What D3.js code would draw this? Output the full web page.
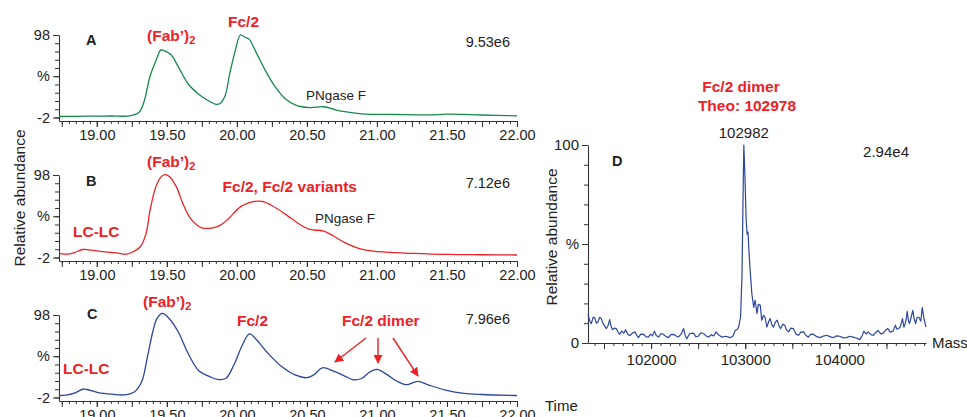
<!DOCTYPE html>
<html>
<head>
<meta charset="utf-8">
<script src="https://cdn.jsdelivr.net/npm/d3@7"></script>
<style>
  body { margin: 0; background: #fff; overflow: hidden; }
  svg text { font-family: "Liberation Sans", Arial, sans-serif; }
</style>
</head>
<body>
<svg id="chart" width="967" height="417"></svg>
<script>
const width = 967
const height = 417

// chromatogram A (green): retention time (min) / relative abundance (%)
const timeA = [18.73, 18.85, 19.0, 19.1, 19.236, 19.30, 19.335, 19.38, 19.42, 19.458, 19.48, 19.53, 19.58,
  19.655, 19.73, 19.80, 19.85, 19.88, 19.915, 19.95, 19.99, 20.025, 20.06, 20.087, 20.14, 20.20, 20.27,
  20.35, 20.42, 20.52, 20.62, 20.69, 20.77, 20.89, 21.14, 21.38, 21.5, 21.75, 22.0]
const valA = [-0.8, -0.6, -0.3, -0.2, 0, 4, 16, 48, 66, 80, 79, 74, 60,
  38, 26, 18, 14, 15, 24, 52, 80, 98, 95, 93, 76, 56, 36,
  20, 13, 10, 11, 8, 5, 2.5, 1.6, 1.2, 2, 1, 0]

// chromatogram B (red)
const timeB = [18.73, 18.79, 18.84, 18.90, 18.96, 19.04, 19.14, 19.21, 19.26, 19.31, 19.35, 19.38, 19.42,
  19.46, 19.485, 19.52, 19.57, 19.62, 19.68, 19.75, 19.83, 19.88, 19.94, 20.03, 20.13, 20.18, 20.25,
  20.35, 20.45, 20.52, 20.62, 20.69, 20.77, 20.89, 21.01, 21.26, 21.51, 21.75, 22.0]
const valB = [3, 2, 4, 7.7, 7, 5, 3.7, 2, 5, 11, 26, 55, 83,
  96, 98.5, 96, 83, 61, 43, 34, 34, 37, 45, 60, 66, 66, 61,
  50, 38, 32, 30, 24, 16, 8, 5, 3, 1.7, 1.3, 1]

// chromatogram C (blue)
const timeC = [18.73, 18.79, 18.85, 18.90, 18.93, 19.01, 19.11, 19.20, 19.27, 19.32, 19.36, 19.40, 19.43,
  19.47, 19.51, 19.58, 19.65, 19.73, 19.81, 19.86, 19.92, 19.98, 20.04, 20.09, 20.14, 20.22, 20.32,
  20.42, 20.50, 20.55, 20.61, 20.69, 20.77, 20.83, 20.89, 20.95, 21.0, 21.07, 21.14, 21.21, 21.29,
  21.37, 21.49, 21.62, 21.75, 22.0]
const valC = [0.4, 1.2, 4, 8, 7.7, 4, 2, 1.2, 5, 17, 46, 78, 94,
  100, 95, 78, 52, 30, 23, 20, 21, 38, 62, 75, 68, 52, 35.5,
  25, 22, 25.5, 34, 30, 24, 19.5, 21, 29, 32, 26, 18, 13.5, 17.5,
  13, 7, 3, 1.6, 0.4]

// deconvoluted spectrum D (blue): mass (Da) / relative abundance (%)
const massD = [101330, 101350, 101365, 101385, 101400, 101420, 101435, 101455, 101470, 101485, 101500, 101525,
  101545, 101560, 101575, 101590, 101610, 101630, 101650, 101665, 101690, 101710, 101730, 101750, 101775,
  101800, 101830, 101850, 101865, 101890, 101920, 101945, 101970, 101995, 102015, 102035, 102055, 102080,
  102105, 102130, 102160, 102185, 102210, 102240, 102265, 102290, 102320, 102345, 102365, 102380, 102410,
  102450, 102475, 102500, 102530, 102560, 102585, 102610, 102640, 102665, 102690, 102720, 102750, 102790,
  102840, 102870, 102895, 102915, 102930, 102950, 102965, 102975, 102985, 102995, 103010, 103020, 103030,
  103040, 103050, 103070, 103090, 103105, 103125, 103140, 103160, 103175, 103195, 103210, 103230, 103250,
  103265, 103285, 103300, 103320, 103340, 103360, 103375, 103400, 103420, 103440, 103460, 103485, 103510,
  103540, 103565, 103590, 103620, 103645, 103670, 103700, 103725, 103760, 103795, 103830, 103865, 103900,
  103935, 103970, 104005, 104040, 104075, 104110, 104145, 104180, 104215, 104240, 104260, 104285, 104305,
  104335, 104360, 104385, 104410, 104440, 104465, 104490, 104515, 104540, 104570, 104595, 104610, 104630,
  104650, 104670, 104685, 104695, 104710, 104720, 104735, 104745, 104765, 104780, 104795, 104810, 104825,
  104845, 104865, 104880, 104900, 104920]
const valD = [14.5, 11, 9.8, 13, 12.8, 10, 10.6, 13, 12.3, 10.5, 9, 7.3,
  9, 11.8, 8.5, 6.7, 7.5, 7.3, 5.5, 4.4, 6, 5, 6.7, 4.5, 3.7,
  5, 5.6, 3.8, 2.7, 4.5, 4.4, 3.2, 3, 4.5, 3.6, 6, 3.8, 3,
  4.8, 4.4, 3.2, 2.7, 4.2, 4.4, 3.5, 3, 4.6, 7.3, 3.4, 2.2, 4.8,
  5, 3.2, 3.4, 5.2, 4.7, 3.5, 3, 4.2, 3.5, 5.6, 4, 3, 3.4,
  2.7, 3.5, 6.4, 6.8, 8, 13, 33, 67, 100, 87, 62, 55, 56,
  46, 38, 25, 18, 21.6, 15, 19.5, 19, 11.5, 14, 13, 8, 11,
  12.3, 9, 8, 10.5, 11.5, 8.5, 7.3, 9.5, 9, 6.5, 5.6, 7.5, 7.3,
  4.5, 3.9, 5.5, 5.6, 3.8, 3, 4.6, 4.4, 3.2, 2.7, 3.5, 3.9, 3.2,
  2.7, 3.6, 3.4, 2.6, 2.7, 3.4, 3, 2.5, 1.7, 3.5, 6, 4.5, 5.6,
  4.2, 3.9, 5.2, 6.4, 4.6, 5, 6.5, 7.3, 5.5, 6, 9, 7, 7.3,
  8.5, 12.3, 8, 9, 12, 16, 11, 9.8, 13.5, 16.5, 12, 9.8, 13,
  13, 11, 17.9, 12, 8]

const timeLabels = [19, 19.5, 20, 20.5, 21, 21.5, 22]
const massLabels = [102000, 103000, 104000]
const scaleFactors = ['9.53e6', '7.12e6', '7.96e6']

const colorA = '#17884a'
const colorB = '#ec2227'
const colorC = '#2c479c'
const labelRed = '#ec2227'
const axisColor = '#333'

const svg = d3.select('#chart')

const defs = svg.append('defs')
defs.append('marker')
  .attr('id', 'arrow')
  .attr('viewBox', '0 0 10 10')
  .attr('refX', 9).attr('refY', 5)
  .attr('markerWidth', 9).attr('markerHeight', 9)
  .attr('markerUnits', 'userSpaceOnUse')
  .attr('orient', 'auto')
  .append('path')
  .attr('d', 'M0,0L10,5L0,10z')
  .attr('fill', labelRed)

// shared x scale for the three chromatograms
const x = d3.scaleLinear().domain([18.73, 22.0]).range([59, 517])

function styleAxis(g, fontSize) {
  g.selectAll('path, line').attr('stroke', axisColor).attr('stroke-width', 1)
  g.selectAll('text').attr('fill', '#222').style('font-size', fontSize + 'px')
  g.select('.domain').attr('stroke-width', 1.1)
}

function drawChrom(top, times, vals, color) {
  const g = svg.append('g').attr('transform', `translate(0,${top})`)
  const y = d3.scaleLinear().domain([-6.25, 98]).range([121, 35])

  // minor ticks
  g.append('g')
    .attr('transform', 'translate(0,121)')
    .call(d3.axisBottom(x).tickValues(d3.range(375, 441).map(i => i / 20)).tickSize(3).tickFormat('').tickSizeOuter(0))
    .call(g => styleAxis(g, 14.5))
  g.append('g')
    .attr('transform', 'translate(0,121)')
    .call(d3.axisBottom(x).tickValues(d3.range(75, 89).map(i => i / 4)).tickSize(6).tickFormat('').tickSizeOuter(0))
    .call(g => styleAxis(g, 14.5))
    .select('.domain').remove()
  g.append('g')
    .attr('transform', 'translate(0,121)')
    .call(d3.axisBottom(x).tickValues(timeLabels).tickSize(6).tickPadding(3).tickFormat(d3.format('.2f')))
    .call(g => styleAxis(g, 14.5))
    .select('.domain').remove()

  g.append('g')
    .attr('transform', 'translate(59,0)')
    .call(d3.axisLeft(y).tickValues(d3.range(-2, 99, 10)).tickSize(4).tickFormat('').tickSizeOuter(0))
    .call(g => styleAxis(g, 14.5))
  g.append('g')
    .attr('transform', 'translate(59,0)')
    .call(d3.axisLeft(y).tickValues([-2, 48, 98]).tickSize(6).tickPadding(3)
      .tickFormat(d => d === 48 ? '%' : d))
    .call(g => styleAxis(g, 14.5))
    .select('.domain').remove()

  const line = d3.line()
    .x((d, i) => x(times[i]))
    .y(d => y(d))
    .curve(d3.curveCatmullRom.alpha(0.5))

  g.append('path')
    .datum(vals)
    .attr('d', line)
    .attr('fill', 'none')
    .attr('stroke', color)
    .attr('stroke-width', 1.3)
  return g
}

drawChrom(0, timeA, valA, colorA)
drawChrom(140, timeB, valB, colorB)
drawChrom(280, timeC, valC, colorC)

function addText(txt, px, py, opts = {}) {
  const t = svg.append('text')
    .attr('x', px).attr('y', py)
    .attr('text-anchor', opts.anchor || 'start')
    .attr('fill', opts.color || '#222')
    .style('font-size', (opts.size || 14) + 'px')
    .style('font-weight', opts.bold ? 'bold' : 'normal')
    .text(txt)
  return t
}

function fabLabel(px, py) {
  const t = svg.append('text')
    .attr('x', px).attr('y', py)
    .attr('fill', labelRed)
    .style('font-size', '15.5px')
    .style('font-weight', 'bold')
  t.append('tspan').text('(Fab\u2019)')
  t.append('tspan').attr('dy', 3).style('font-size', '11px').text('2')
}

// panel labels and scale factors
addText('A', 86, 45, { bold: true, size: 14.5 })
addText('B', 86, 186, { bold: true, size: 14.5 })
addText('C', 87, 319, { bold: true, size: 14.5 })
addText(scaleFactors[0], 510, 47, { anchor: 'end', size: 14.5 })
addText(scaleFactors[1], 510, 188, { anchor: 'end', size: 14.5 })
addText(scaleFactors[2], 510, 324, { anchor: 'end', size: 14.5 })

// peak annotations
fabLabel(147, 41)
addText('Fc/2', 228, 27, { bold: true, size: 15.5, color: labelRed })
addText('PNgase F', 306, 100, { size: 13.5 })

fabLabel(147, 167)
addText('LC-LC', 73, 237, { bold: true, size: 15.5, color: labelRed })
addText('Fc/2, Fc/2 variants', 357, 192, { anchor: 'end', bold: true, size: 15.5, color: labelRed })
addText('PNgase F', 315, 223, { size: 13.5 })

fabLabel(143, 307)
addText('LC-LC', 63, 374, { bold: true, size: 15.5, color: labelRed })
addText('Fc/2', 237, 326, { bold: true, size: 15.5, color: labelRed })
addText('Fc/2 dimer', 342, 326, { bold: true, size: 15.5, color: labelRed })

const arrows = [[366, 338, 335, 362], [378, 338, 378, 363], [393, 338, 418, 376]]
svg.append('g').selectAll('line')
  .data(arrows)
  .join('line')
  .attr('x1', d => d[0]).attr('y1', d => d[1])
  .attr('x2', d => d[2]).attr('y2', d => d[3])
  .attr('stroke', labelRed)
  .attr('stroke-width', 1.4)
  .attr('marker-end', 'url(#arrow)')

svg.append('text')
  .attr('transform', 'translate(25,198) rotate(-90)')
  .attr('text-anchor', 'middle')
  .attr('fill', '#222')
  .style('font-size', '15.5px')
  .text('Relative abundance')
addText('Time', 545, 411, { size: 15 })

// panel D: deconvoluted mass spectrum
const xD = d3.scaleLinear().domain([101330, 104920]).range([588, 926])
const yD = d3.scaleLinear().domain([0, 100]).range([343, 145])
const gD = svg.append('g')

gD.append('g')
  .attr('transform', 'translate(0,343)')
  .call(d3.axisBottom(xD).tickValues(d3.range(101400, 104901, 100)).tickSize(3).tickFormat('').tickSizeOuter(0))
  .call(g => styleAxis(g, 15))
gD.append('g')
  .attr('transform', 'translate(0,343)')
  .call(d3.axisBottom(xD).tickValues(d3.range(101500, 104901, 500)).tickSize(6).tickFormat('').tickSizeOuter(0))
  .call(g => styleAxis(g, 15))
  .select('.domain').remove()
gD.append('g')
  .attr('transform', 'translate(0,343)')
  .call(d3.axisBottom(xD).tickValues(massLabels).tickSize(6).tickPadding(5).tickFormat(d3.format('d')))
  .call(g => styleAxis(g, 15))
  .select('.domain').remove()

gD.append('g')
  .attr('transform', 'translate(588,0)')
  .call(d3.axisLeft(yD).tickValues(d3.range(0, 101, 10)).tickSize(4).tickFormat('').tickSizeOuter(0))
  .call(g => styleAxis(g, 15))
gD.append('g')
  .attr('transform', 'translate(588,0)')
  .call(d3.axisLeft(yD).tickValues([0, 50, 100]).tickSize(6).tickPadding(3)
    .tickFormat(d => d === 50 ? '%' : d))
  .call(g => styleAxis(g, 15))
  .select('.domain').remove()

gD.append('path')
  .datum(valD)
  .attr('d', d3.line().x((d, i) => xD(massD[i])).y(d => yD(d)))
  .attr('fill', 'none')
  .attr('stroke', colorC)
  .attr('stroke-width', 1.2)
  .attr('stroke-linejoin', 'round')

svg.append('text')
  .attr('transform', 'translate(557,237) rotate(-90)')
  .attr('text-anchor', 'middle')
  .attr('fill', '#222')
  .style('font-size', '15.5px')
  .text('Relative abundance')

addText('D', 612, 166, { bold: true, size: 14.5 })
addText('2.94e4', 909, 157, { anchor: 'end', size: 15 })
addText('102982', xD(102985), 138, { anchor: 'middle', size: 15 })
addText('Fc/2 dimer', 741, 92, { anchor: 'middle', bold: true, size: 15.5, color: labelRed })
addText('Theo: 102978', 747, 111, { anchor: 'middle', bold: true, size: 15.5, color: labelRed })
addText('Mass', 932, 348, { size: 15 })
</script>
</body>
</html>
